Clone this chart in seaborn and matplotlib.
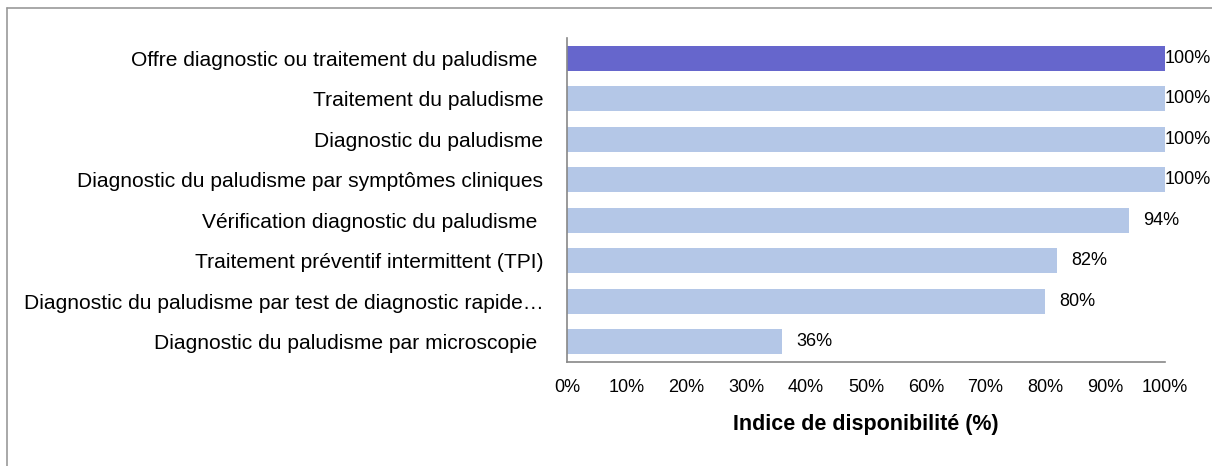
import pandas as pd
import matplotlib.pyplot as plt
import seaborn as sns
from matplotlib.lines import Line2D

# Data
categories = [
    "Offre diagnostic ou traitement du paludisme ",
    "Traitement du paludisme",
    "Diagnostic du paludisme",
    "Diagnostic du paludisme par symptômes cliniques",
    "Vérification diagnostic du paludisme ",
    "Traitement préventif intermittent (TPI)",
    "Diagnostic du paludisme par test de diagnostic rapide…",
    "Diagnostic du paludisme par microscopie ",
]
values = [100, 100, 100, 100, 94, 82, 80, 36]
bar_colors = ["#6666CC", "#B4C7E7", "#B4C7E7", "#B4C7E7",
              "#B4C7E7", "#B4C7E7", "#B4C7E7", "#B4C7E7"]
tick_values = list(range(0, 101, 10))
tick_labels = [f"{v}%" for v in tick_values]

df = pd.DataFrame({"Categorie": categories, "Valeur": values})

sns.set_style("white")
plt.rcParams['font.family'] = ['Liberation Sans', 'DejaVu Sans']
plt.rcParams['text.color'] = 'black'
plt.rcParams['axes.labelcolor'] = 'black'
plt.rcParams['xtick.color'] = 'black'
plt.rcParams['ytick.color'] = 'black'

fig = plt.figure(figsize=(12.12, 4.66), dpi=100)
ax = fig.add_axes([0.4678, 0.2232, 0.4934, 0.6953])

sns.barplot(data=df, x="Valeur", y="Categorie", hue="Categorie",
            palette=bar_colors, legend=False, width=0.62, ax=ax,
            saturation=1, edgecolor="none")

ax.set_xlim(0, 100)
ax.set_xticks(tick_values)
ax.set_xticklabels(tick_labels, fontsize=13)
ax.tick_params(axis='x', length=5, width=1, color='#888888', direction='out', pad=7)
ax.tick_params(axis='y', length=0, pad=17)
for lab in ax.get_yticklabels():
    lab.set_fontsize(15.1)

ax.set_ylabel("")
ax.set_xlabel("Indice de disponibilité (%)", fontsize=15.5, fontweight='bold', labelpad=13)

sns.despine(ax=ax, top=True, right=True)
ax.spines['left'].set_color('#888888')
ax.spines['bottom'].set_color('#888888')
ax.spines['left'].set_linewidth(1.2)
ax.spines['bottom'].set_linewidth(1.2)

# value labels
for i, v in enumerate(values):
    off = 0 if v >= 100 else 2.3
    ax.text(v + off, i, f"{v}%", va='center', ha='left', fontsize=13)

# partial frame (top and left) like the source
fig.add_artist(Line2D([7 / 1212, 1], [1 - 8 / 466, 1 - 8 / 466],
                      transform=fig.transFigure, color='#999999', lw=1.2))
fig.add_artist(Line2D([7 / 1212, 7 / 1212], [0, 1 - 8 / 466],
                      transform=fig.transFigure, color='#999999', lw=1.2))

fig.savefig("out.png", dpi=100)
